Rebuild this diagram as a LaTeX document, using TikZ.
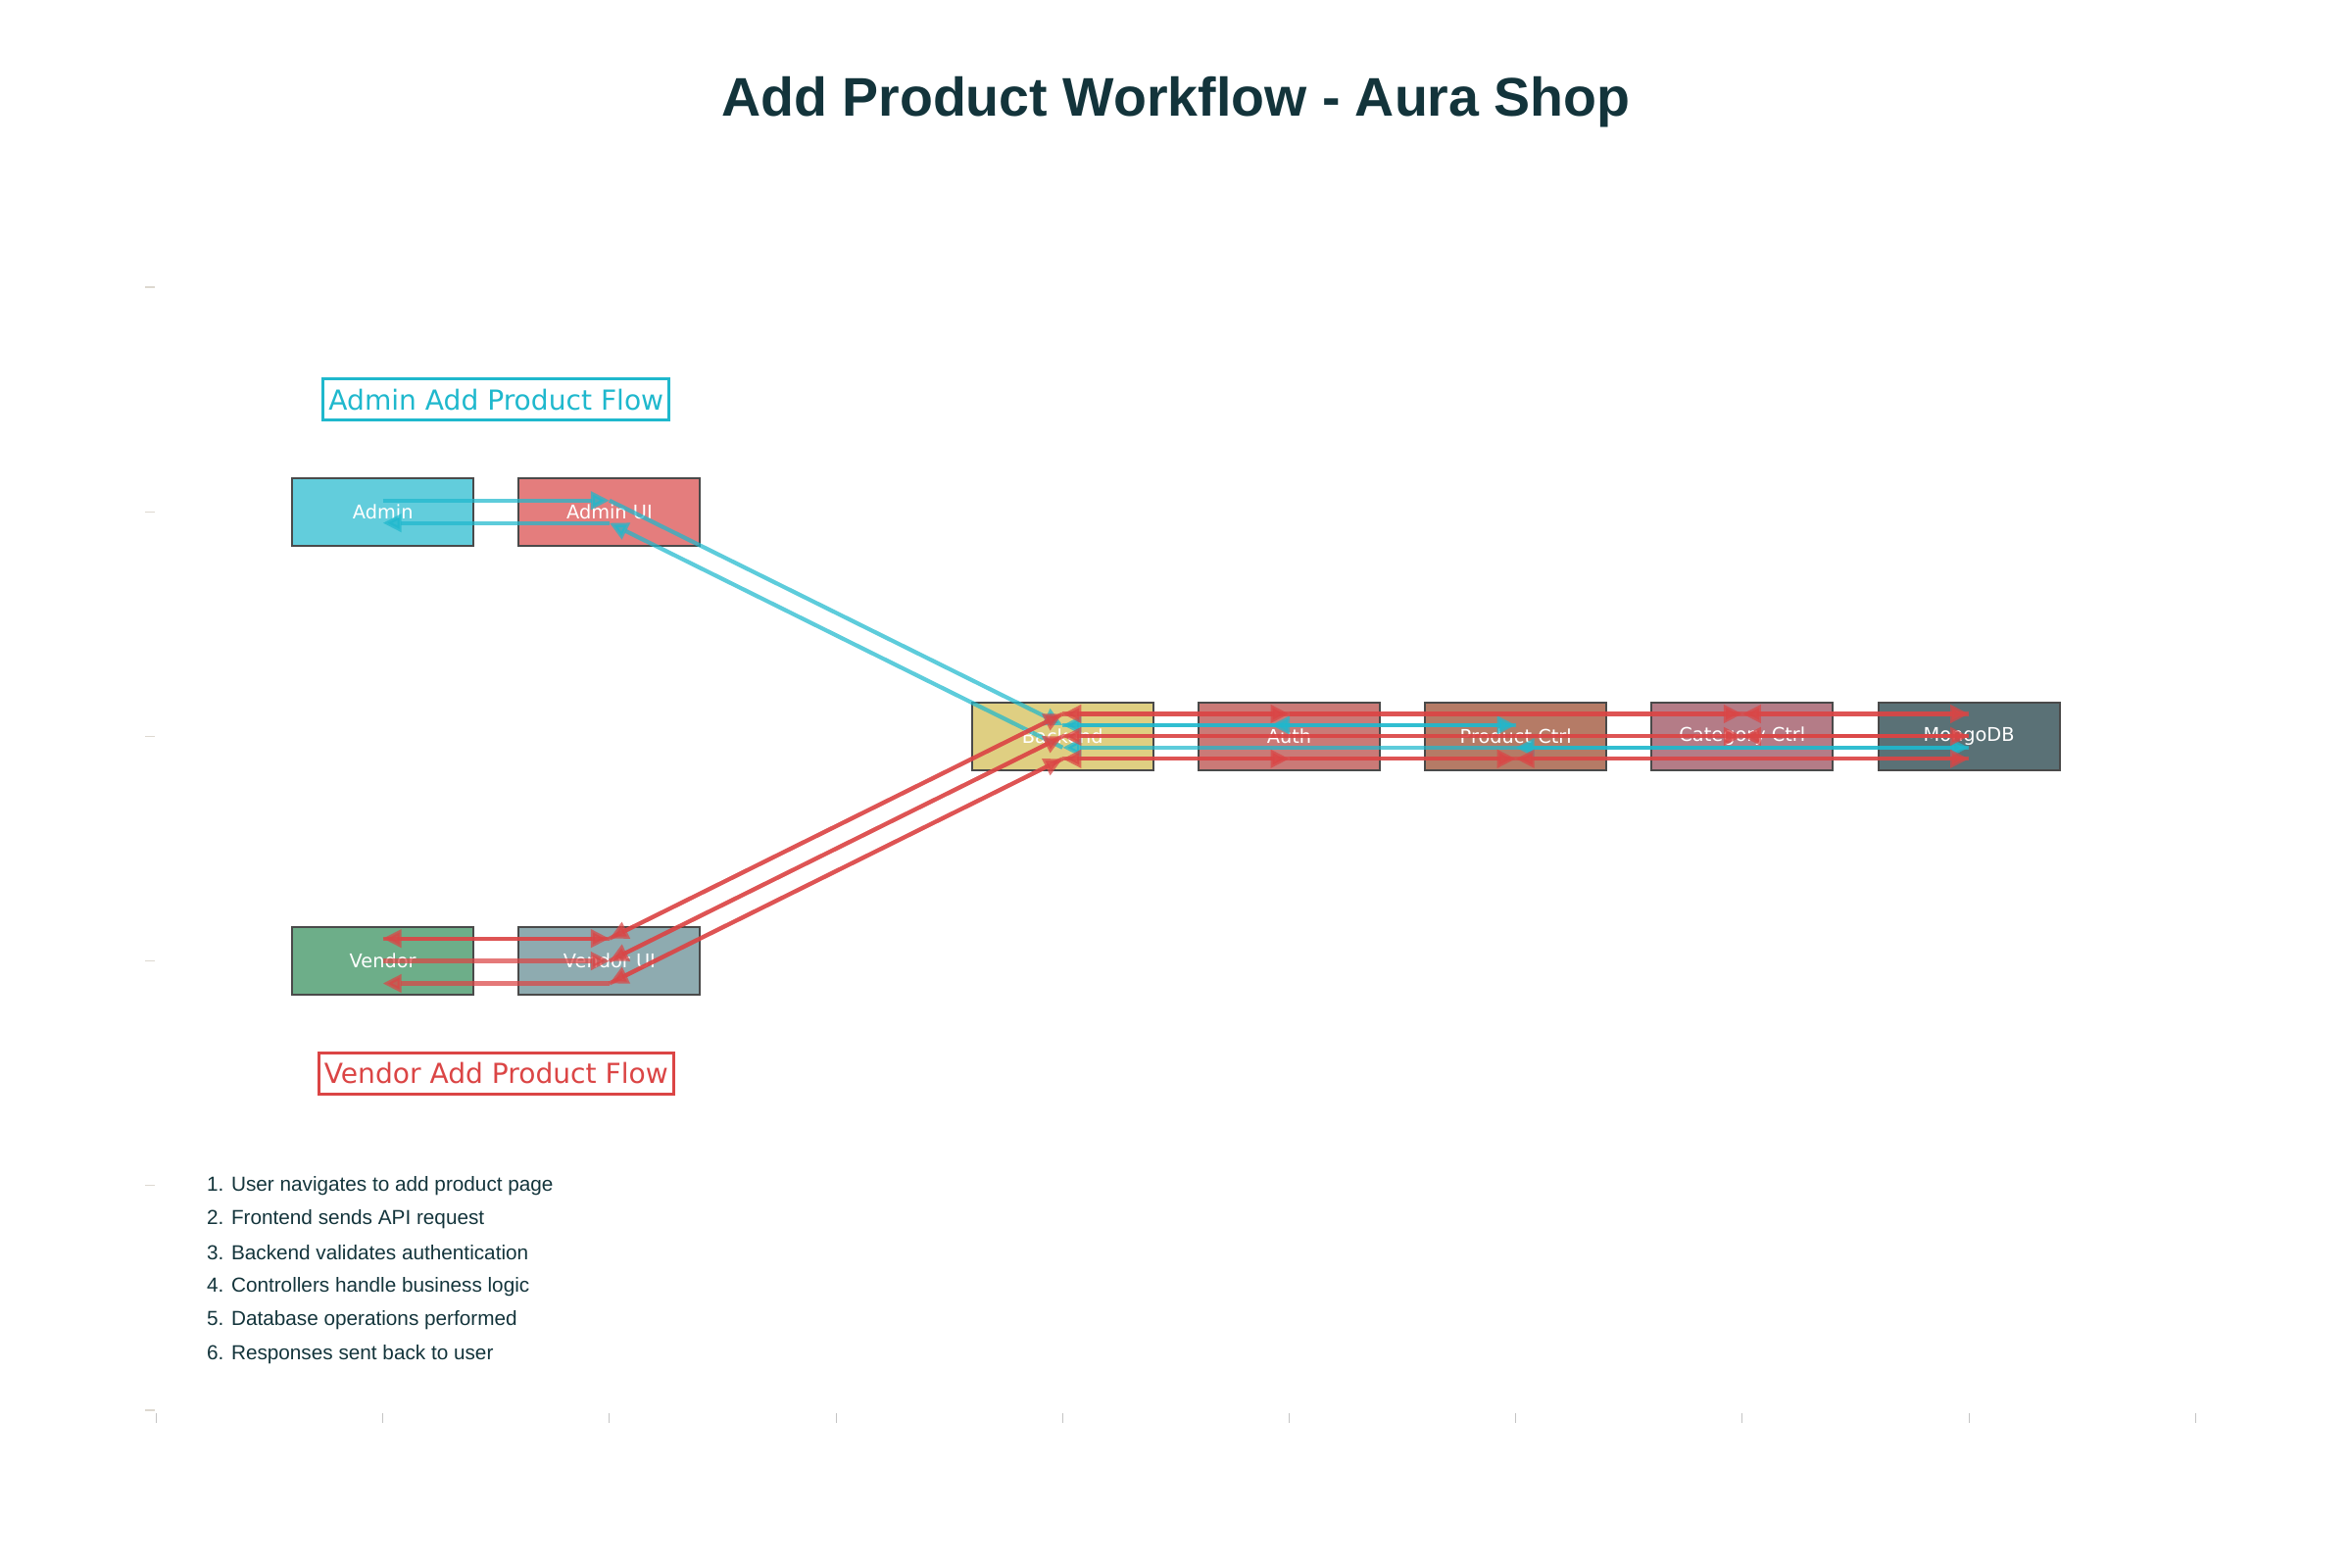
\documentclass[tikz,border=0pt]{standalone}
\usepackage{fontspec}
\setmainfont{Liberation Sans}
\newfontfamily\dejavu{DejaVu Sans}
\usetikzlibrary{arrows.meta,calc}
\definecolor{tealc}{HTML}{1FB8CD}
\definecolor{redc}{HTML}{DB4545}
\definecolor{darkc}{HTML}{13343B}
\definecolor{boxline}{HTML}{4A4A4A}
\definecolor{cAdmin}{HTML}{62CDDC}
\definecolor{cAdminUI}{HTML}{E47D7D}
\definecolor{cBackend}{HTML}{DFCF82}
\definecolor{cAuth}{HTML}{CA7A77}
\definecolor{cProd}{HTML}{B57B66}
\definecolor{cCat}{HTML}{B47C87}
\definecolor{cMongo}{HTML}{5A7176}
\definecolor{cVendor}{HTML}{6DAE89}
\definecolor{cVendorUI}{HTML}{8EABB0}
\definecolor{xtick}{HTML}{C4C4C4}
\definecolor{ytick}{HTML}{DDD8D0}
\begin{document}
\begin{tikzpicture}[x=2.312cm,y=2.292cm,
  box/.style={draw=boxline, line width=0.02cm, minimum width=1.8496cm, minimum height=0.6876cm, inner sep=0pt, text=white, font=\dejavu\fontsize{5.5}{6.6}\selectfont},
  flowlbl/.style={line width=0.03cm, fill=white, inner xsep=0.055cm, inner ysep=0pt, minimum height=0.42cm, font=\dejavu\fontsize{8}{9.6}\selectfont},
  ta/.style={draw=tealc, opacity=0.72, line width=0.042cm, -{Triangle[length=0.19cm,width=0.18cm]}},
  ra/.style={draw=redc, opacity=0.72, line width=0.042cm, -{Triangle[length=0.19cm,width=0.18cm]}},
  steptxt/.style={anchor=west, inner sep=0pt, text=darkc, font=\fontsize{5.9}{7}\selectfont}
]
\useasboundingbox (-0.6899,-0.7024) rectangle (9.6908,6.2784);

% axis ticks
\foreach \i in {0,...,9} \draw[xtick, line width=0.01cm] (\i,-0.013) -- (\i,-0.057);
\foreach \j in {0,...,5} \draw[ytick, line width=0.012cm] (-0.0497,\j) -- (-0.0065,\j);

% title
\node[anchor=base, text=darkc, font=\bfseries\fontsize{15.8}{19}\selectfont] (title) at (4.5,5.763) {Add Product Workflow - Aura Shop};

% flow labels
\node[flowlbl, draw=tealc, text=tealc] (adminlbl) at (1.5,4.5) {Admin Add Product Flow};
\node[flowlbl, draw=redc, text=redc] (vendorlbl) at (1.5,1.5) {Vendor Add Product Flow};

% nodes
\node[box, fill=cAdmin] (admin) at (1,4) {Admin};
\node[box, fill=cAdminUI] (adminui) at (2,4) {Admin UI};
\node[box, fill=cBackend] (backend) at (4,3) {Backend};
\node[box, fill=cAuth] (auth) at (5,3) {Auth};
\node[box, fill=cProd] (prod) at (6,3) {Product Ctrl};
\node[box, fill=cCat] (cat) at (7,3) {Category Ctrl};
\node[box, fill=cMongo] (mongo) at (8,3) {MongoDB};
\node[box, fill=cVendor] (vendor) at (1,2) {Vendor};
\node[box, fill=cVendorUI] (vendorui) at (2,2) {Vendor UI};

% admin flow (teal)
\draw[ta] ($(admin)+(0,.05)$) -- ($(adminui)+(0,.05)$);
\draw[ta] ($(adminui)+(0,.05)$) -- ($(backend)+(0,.05)$);
\draw[ta] ($(auth)+(0,.05)$) -- ($(backend)+(0,.05)$);
\draw[ta] ($(backend)+(0,.05)$) -- ($(prod)+(0,.05)$);
\draw[ta] ($(prod)+(0,.05)$) -- ($(auth)+(-0.08,.05)$);
\draw[ta] ($(prod)+(0,-.05)$) -- ($(mongo)+(0,-.05)$);
\draw[ta] ($(mongo)+(0,-.05)$) -- ($(prod)+(0,-.05)$);
\draw[ta] ($(prod)+(0,-.05)$) -- ($(backend)+(0,-.05)$);
\draw[ta] ($(backend)+(0,-.05)$) -- ($(adminui)+(0,-.05)$);
\draw[ta] ($(adminui)+(0,-.05)$) -- ($(admin)+(0,-.05)$);

% vendor flow (red)
\draw[ra] ($(vendor)+(0,.1)$) -- ($(vendorui)+(0,.1)$);
\draw[ra] ($(vendorui)+(0,.1)$) -- ($(vendor)+(0,.1)$);
\draw[ra] (vendor.center) -- (vendorui.center);
\draw[ra] ($(vendorui)+(0,-.1)$) -- ($(vendor)+(0,-.1)$);
\foreach \o in {0.1,0,-0.1} {
  \draw[ra] ($(vendorui)+(0,\o)$) -- ($(backend)+(0,\o)$);
  \draw[ra] ($(backend)+(0,\o)$) -- ($(vendorui)+(0,\o)$);
}
% lane +0.1
\draw[ra] ($(backend)+(0,.1)$) -- ($(auth)+(0,.1)$);
\draw[ra] ($(cat)+(0,.1)$) -- ($(backend)+(0,.1)$);
\draw[ra] ($(auth)+(0,.1)$) -- ($(cat)+(0,.1)$);
\draw[ra] ($(mongo)+(0,.1)$) -- ($(cat)+(0,.1)$);
\draw[ra] ($(cat)+(0,.1)$) -- ($(mongo)+(0,.1)$);
% lane 0
\draw[ra] (mongo.center) -- (backend.center);
\draw[ra] (backend.center) -- (cat.center);
\draw[ra] (mongo.center) -- (cat.center);
\draw[ra] (cat.center) -- (mongo.center);
% lane -0.1
\draw[ra] ($(backend)+(0,-.1)$) -- ($(auth)+(0,-.1)$);
\draw[ra] ($(prod)+(0,-.1)$) -- ($(backend)+(0,-.1)$);
\draw[ra] ($(auth)+(0,-.1)$) -- ($(prod)+(0,-.1)$);
\draw[ra] ($(mongo)+(0,-.1)$) -- ($(prod)+(0,-.1)$);
\draw[ra] ($(prod)+(0,-.1)$) -- ($(mongo)+(0,-.1)$);

% steps
\node[steptxt] (s1) at (0.22,1) {1. User navigates to add product page};
\node[steptxt] (s2) at (0.22,0.85) {2. Frontend sends API request};
\node[steptxt] (s3) at (0.22,0.7) {3. Backend validates authentication};
\node[steptxt] (s4) at (0.22,0.55) {4. Controllers handle business logic};
\node[steptxt] (s5) at (0.22,0.4) {5. Database operations performed};
\node[steptxt] (s6) at (0.22,0.25) {6. Responses sent back to user};
\end{tikzpicture}
\end{document}
